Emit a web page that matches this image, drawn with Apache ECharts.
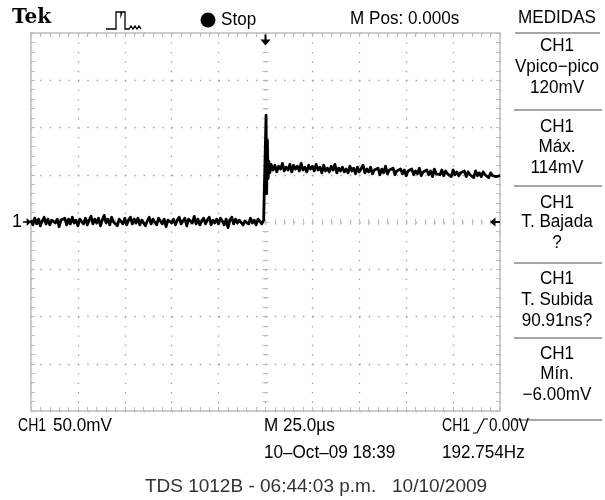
<!DOCTYPE html>
<html>
<head>
<meta charset="utf-8">
<script src="https://cdn.jsdelivr.net/npm/echarts@6/dist/echarts.min.js"></script>
<style>html,body{margin:0;padding:0;background:#fff}#c{width:605px;height:500px}</style>
</head>
<body>
<div id="c"></div>
<script>
// ---- Data (mV vs µs) ----
const timeRange = [-125, 125];      // µs, 25 µs/div, 10 div
const voltRange = [-200, 200];      // mV, 50 mV/div, 8 div
const sampleStepUs = 1;
// pre-trigger samples, ending at t = -1 µs
const preTrigger = [
  2, -3, 4, -2, 3, -4, 1, 5, -2, 3, -3, 2, 4, -1, 3, -5, 2, 0, 4, -3, 3, -2, 5, -1, 2,
  -4, 3, 1, -2, 4, -3, 2, 6, -2, 3, -1, 4, -4, 2, 7, -1, 3, -3, 5, 0, 2, -4, 3, 1, -2,
  4, -3, 2, 5, -2, 3, -1, 4, -3, 2, 3, -4, 1, 5, -2, 3, 0, -3, 4, 2, -2, 3, -5, 2, 4,
  -1, 3, -3, 2, 5, -2, 1, 4, -4, 3, 2, -1, 6, -2, 3, -3, 1, 4, -2, 2, 5, -3, 2, -1, 3,
  -2, 4, 1, -3, 3, -6, 2, 5, -2, 3, -1, 2, 4, -3, 1, 3, -2, 4, -1, 2, -3, 3, 1, -2, 2
];
// rising edge and overshoot spike around the trigger
const edgeTimes  = [0, 0.3, 0.6, 1.0, 1.4, 1.8, 2.3];
const edgeValues = [3, 113, 30, 87, 46, 64, 52];
// post-trigger samples, starting at t = 3 µs
const postStartUs = 3;
const postTrigger = [
  61, 55, 60, 53, 59, 56, 62, 54, 58, 55, 61, 53, 60, 56, 59, 54, 62, 55, 58, 53, 60, 56, 59, 54, 61,
  55, 58, 52, 60, 54, 57, 53, 59, 55, 61, 52, 57, 54, 58, 53, 56, 52, 59, 54, 57, 51, 58, 53, 55, 60,
  52, 56, 53, 58, 51, 55, 53, 57, 50, 56, 52, 59, 51, 55, 53, 57, 50, 54, 52, 56, 51, 55, 49, 54, 52,
  56, 50, 54, 51, 57, 49, 53, 52, 55, 50, 54, 48, 56, 51, 53, 50, 55, 49, 54, 51, 52, 48, 55, 50, 53,
  49, 52, 50, 54, 48, 53, 50, 51, 47, 54, 49, 52, 48, 53, 50, 51, 47, 52, 49, 51, 48, 50, 49
];
const triggerTimeUs = 0;
const triggerLevelMv = 0;
const measurements = [
  ['CH1', 'Vpico\u2212pico', '120mV'],
  ['CH1', 'M\u00e1x.', '114mV'],
  ['CH1', 'T. Bajada', '?'],
  ['CH1', 'T. Subida', '90.91ns?'],
  ['CH1', 'M\u00edn.', '\u22126.00mV']
];

// ---- build series data ----
const trace = [];
preTrigger.forEach((v, i) => trace.push([(i - preTrigger.length) * sampleStepUs, v]));
edgeTimes.forEach((t, i) => trace.push([t, edgeValues[i]]));
postTrigger.forEach((v, i) => trace.push([postStartUs + i * sampleStepUs, v]));

const chart = echarts.init(document.getElementById('c'), null, {renderer: 'canvas'});

const BORDER = '#bdbdbd';
const DOT = '#a0a0a0';
const SCOPE_FONT = '"Liberation Sans", Arial, sans-serif';

function xAx(extra) {
  return Object.assign({
    type: 'value', min: timeRange[0], max: timeRange[1], interval: 25,
    axisLabel: {show: false}, splitLine: {show: false},
    axisLine: {show: true, onZero: false, lineStyle: {color: BORDER, width: 1.5}},
    axisTick: {show: true, inside: true, length: 4, lineStyle: {color: BORDER, width: 1}},
    minorTick: {show: true, splitNumber: 5, length: 4, lineStyle: {color: BORDER, width: 1}}
  }, extra);
}
function yAx(extra) {
  return Object.assign({
    type: 'value', min: voltRange[0], max: voltRange[1], interval: 50,
    axisLabel: {show: false}, splitLine: {show: false},
    axisLine: {show: true, onZero: false, lineStyle: {color: BORDER, width: 1.5}},
    axisTick: {show: true, inside: true, length: 4, lineStyle: {color: BORDER, width: 1}},
    minorTick: {show: true, splitNumber: 5, length: 4, lineStyle: {color: BORDER, width: 1}}
  }, extra);
}
const centerLine = (len, inside) => ({
  axisLine: {show: true, onZero: true, onZeroAxisIndex: 0, lineStyle: {color: BORDER, opacity: 0}},
  axisTick: {show: true, inside: inside, length: len, lineStyle: {color: BORDER, width: 1}},
  minorTick: {show: true, splitNumber: 5, length: len, lineStyle: {color: BORDER, width: 1}}
});

function txt(str, x, y, o) {
  o = o || {};
  return {
    type: 'text', x: x, y: y, scaleX: o.sx == null ? 0.95 : o.sx, silent: true,
    style: {
      text: str, x: 0, y: 0,
      font: o.font || ('18px ' + SCOPE_FONT),
      fill: o.fill || '#000',
      align: o.align || 'left', verticalAlign: 'middle'
    }
  };
}

const graphics = [];
// header
graphics.push(txt('Tek', 12, 18, {font: 'bold 21px "DejaVu Serif", serif', sx: 0.95}));
graphics.push({type: 'polyline', silent: true,
  shape: {points: [[106,29],[116,29],[116,12],[121,12],[121,15],[122,12],[125,12],[125,29],[129,29],[131,26],[133,29],[135,26],[137,29],[139,26],[141,29]]},
  style: {stroke: '#000', lineWidth: 1.3, fill: null}});
graphics.push({type: 'circle', silent: true, shape: {cx: 208, cy: 20, r: 7.5}, style: {fill: '#000'}});
graphics.push(txt('Stop', 221, 20));
graphics.push(txt('M Pos: 0.000s', 350, 19));
graphics.push(txt('MEDIDAS', 557, 18, {align: 'center'}));
graphics.push({type: 'line', silent: true, shape: {x1: 515, y1: 33, x2: 600, y2: 33}, style: {stroke: '#888', lineWidth: 1.5}});
// measurement panel
const rowY = [[46, 67, 88, 110], [127, 147, 168, 186], [203, 222, 243, 263], [279, 300, 321, 338], [354, 374, 395, 420]];
measurements.forEach((m, i) => {
  const r = rowY[i];
  graphics.push(txt(m[0], 557, r[0], {align: 'center'}));
  graphics.push(txt(m[1], 557, r[1], {align: 'center'}));
  graphics.push(txt(m[2], 557, r[2], {align: 'center'}));
  graphics.push({type: 'line', silent: true, shape: {x1: 514, y1: r[3], x2: 602, y2: r[3]}, style: {stroke: '#888', lineWidth: 1.5}});
});
// bottom status
graphics.push(txt('CH1', 18, 426, {sx: 0.78}));
graphics.push(txt('50.0mV', 53, 426));
graphics.push(txt('M 25.0\u00b5s', 264, 426));
graphics.push(txt('CH1', 442, 426, {sx: 0.78}));
graphics.push({type: 'polyline', silent: true, shape: {points: [[473,433],[477,433],[484,419],[488,419]]}, style: {stroke: '#000', lineWidth: 1.2, fill: null}});
graphics.push(txt('0.00V', 489, 426, {sx: 0.85}));
graphics.push(txt('10\u2013Oct\u201309 18:39', 264, 453));
graphics.push(txt('192.754Hz', 442, 453));
graphics.push(txt('TDS 1012B - 06:44:03 p.m.   10/10/2009', 316, 487, {align: 'center', sx: 1, fill: '#333', font: '19px ' + SCOPE_FONT}));

const option = {
  animation: false,
  backgroundColor: '#fff',
  grid: {left: 31, top: 33, width: 469, height: 378, containLabel: false},
  xAxis: [
    xAx({position: 'bottom', splitLine: {show: true, lineStyle: {color: DOT, width: 1.3, type: [1.4, 8.05]}}}),
    xAx({position: 'top'}),
    xAx(Object.assign({position: 'bottom'}, centerLine(3, true))),
    xAx(Object.assign({position: 'bottom'}, centerLine(3, false)))
  ],
  yAxis: [
    yAx({position: 'left', splitLine: {show: true, lineStyle: {color: DOT, width: 1.3, type: [1.4, 7.98]}}}),
    yAx({position: 'right'}),
    yAx(Object.assign({position: 'left'}, centerLine(3, true))),
    yAx(Object.assign({position: 'left'}, centerLine(3, false)))
  ],
  series: [{
    type: 'line', xAxisIndex: 0, yAxisIndex: 0,
    data: trace, showSymbol: false, symbol: 'none', clip: true,
    lineStyle: {color: '#000', width: 2.8, join: 'round'},
    z: 5,
    markPoint: {
      silent: true, animation: false,
      label: {show: false},
      itemStyle: {color: '#000'},
      data: [
        {coord: [triggerTimeUs, voltRange[1]], symbol: 'path://M4,0 L6,0 L6,5 L10,5 L5,11 L0,5 L4,5 Z', symbolSize: [10, 11], symbolOffset: [0, 7]},
        {coord: [timeRange[1], triggerLevelMv], symbol: 'path://M11,4 L11,6 L6,6 L6,10 L0,5 L6,0 L6,4 Z', symbolSize: [10, 9], symbolOffset: [-5, 0]},
        {coord: [timeRange[0], 0], symbol: 'path://M0,4 L0,6 L5,6 L5,10 L11,5 L5,0 L5,4 Z', symbolSize: [8, 8], symbolOffset: [-4, 0],
         label: {show: true, formatter: '1', position: 'left', distance: 1, color: '#000', fontSize: 18, fontFamily: 'Liberation Sans'}}
      ]
    }
  }],
  graphic: graphics
};
chart.setOption(option);
</script>
</body>
</html>
